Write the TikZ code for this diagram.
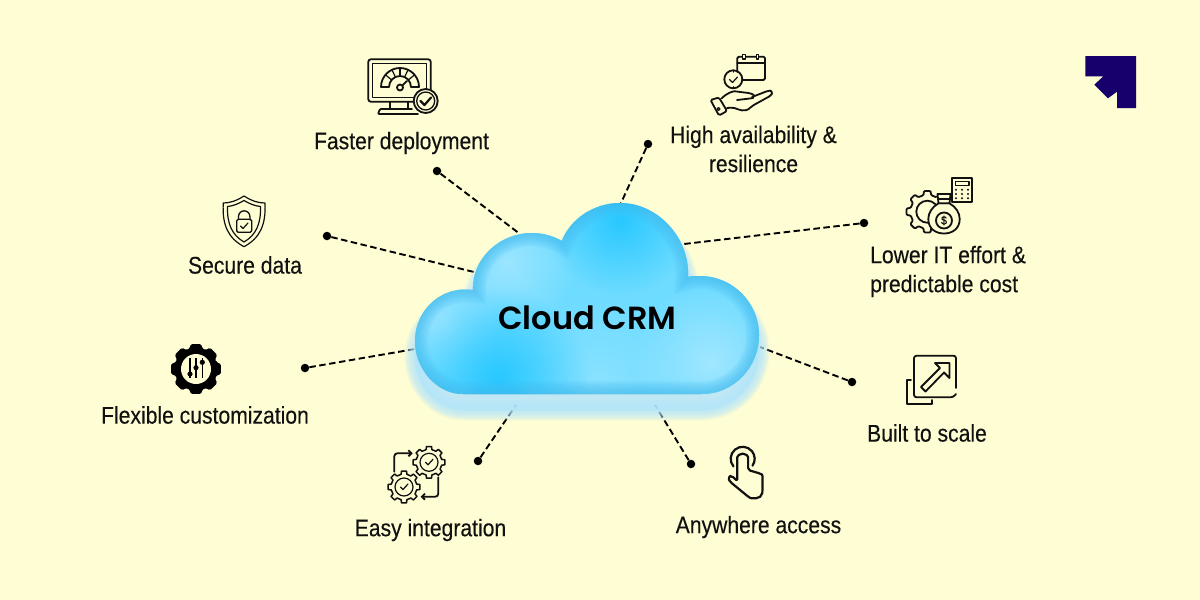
\documentclass[tikz,border=0pt]{standalone}
\usepackage{fontspec}
\usetikzlibrary{fadings,arrows.meta}
\setmainfont[FakeStretch=0.88,FakeBold=0.25]{Liberation Sans}
\newfontfamily\cloudfont{Poppins SemiBold}
\definecolor{paper}{HTML}{FFFDD3}
\definecolor{ink}{HTML}{111111}
\definecolor{logoblue}{HTML}{17006B}
\definecolor{cloudbase}{HTML}{6EDCFF}
\definecolor{cloudedge}{HTML}{45BDF0}
\definecolor{cloudspot}{HTML}{28C8FF}
\definecolor{cloudlight}{HTML}{A6E8FF}
\definecolor{glow}{HTML}{B4E6FF}
\tikzfading[name=spotfade, inner color=transparent!0, outer color=transparent!100]
\def\cloudpath{(463,394) .. controls (436,394) and (415,368) .. (415,341) .. controls (415,312) and (438,289) .. (466,289.5) -- (473,290) .. controls (472,258) and (500,233) .. (532,233) .. controls (543,233) and (553,236) .. (562,241) .. controls (570,219) and (594,203) .. (620,203) .. controls (658,203) and (690,238) .. (688,277) .. controls (690,276) and (695,276) .. (700,276) .. controls (733,276) and (759,303) .. (759,335) .. controls (759,368) and (733,394) .. (702,394) -- cycle}
\tikzset{
  lab/.style={font=\fontsize{24}{29}\selectfont, text=ink, inner sep=0pt},
  dotnode/.style={circle, fill=black, inner sep=0pt, minimum size=8.5pt},
  conn/.style={draw=black, line width=1.9pt, dash pattern=on 6.5pt off 3.5pt},
  ic/.style={draw=ink, line width=1.8pt, line join=round, line cap=round},
  icthin/.style={draw=ink, line width=1.2pt, line join=round, line cap=round},
  spot/.style={path fading=spotfade}
}
\newcommand{\smallgear}[2]{%
  \begin{scope}[shift={(#1,#2)}]
    \draw[ic,line width=1.5pt] (-13:13) \foreach \a in {0,45,...,315}{ -- (\a-13:13) -- (\a-9:16) -- (\a+9:16) -- (\a+13:13)} -- cycle;
    \draw[icthin] (0,0) circle (9);
    \draw[icthin] (-3.5,0) -- (-1,2.5) -- (4,-3);
  \end{scope}}
\begin{document}
\begin{tikzpicture}[x=1pt,y=-1pt]
\useasboundingbox (0,0) rectangle (1200,600);
\fill[paper] (0,0) rectangle (1200,600);

% end points on the cloud
\coordinate (e1) at (520,234);
\coordinate (e2) at (621,203);
\coordinate (e3) at (684,244);
\coordinate (e4) at (760,347);
\coordinate (e5) at (655,405);
\coordinate (e6) at (516,405);
\coordinate (e7) at (415,349);
\coordinate (e8) at (474,272);

\node[dotnode] (d1) at (437,171) {};
\node[dotnode] (d2) at (648,144) {};
\node[dotnode] (d3) at (864,223) {};
\node[dotnode] (d4) at (852,382) {};
\node[dotnode] (d5) at (691,464) {};
\node[dotnode] (d6) at (478,461) {};
\node[dotnode] (d7) at (305,368) {};
\node[dotnode] (d8) at (327,236) {};
\foreach \i in {1,...,8} \draw[conn] (d\i) -- (e\i);

% glow under the cloud
\begin{scope}[yshift=-16pt]
\foreach \w in {1,3,...,21}
  \path[draw=glow, fill=glow, opacity=.14, line width=\w pt, line join=round] \cloudpath;
\end{scope}

% cloud body
\begin{scope}
\clip \cloudpath;
\fill[cloudbase] (400,190) rectangle (780,410);
\fill[cloudlight, spot, opacity=.8] (507,263) circle (70);
\fill[cloudlight, spot, opacity=.8] (443,323) circle (60);
\fill[cloudlight, spot, opacity=.9] (710,362) circle (80);
\fill[cloudlight, spot, opacity=.5] (600,385) circle (90);
\fill[cloudspot, spot] (620,220) circle (75);
\fill[cloudspot, spot] (498,378) circle (90);
\foreach \w in {1,3,...,27}
  \draw[cloudedge, opacity=.07, line width=\w pt] \cloudpath;
\end{scope}
\node[inner sep=0pt, text=black, font=\cloudfont\fontsize{32}{36}\selectfont] (cloud) at (587.5,318) {Cloud CRM};

% logo
\fill[logoblue] (1085.3,56) -- (1136,56) -- (1136,108) -- (1117,108) -- (1117,91.7) -- (1108,98.3) -- (1094.3,84.7) -- (1103.3,76.3) -- (1085.3,76.3) -- cycle;

% labels
\node[lab] (t1) at (401.5,143) {Faster deployment};
\node[lab,align=center] (t2) at (753.5,149) {High availability \&\\resilience};
\node[lab,align=left,anchor=west] (t3) at (870,271.5) {Lower IT effort \&\\predictable cost};
\node[lab] (t4) at (927,433) {Built to scale};
\node[lab] (t5) at (758.5,527) {Anywhere access};
\node[lab] (t6) at (430.5,530) {Easy integration};
\node[lab] (t7) at (205,415) {Flexible customization};
\node[lab] (t8) at (245,265) {Secure data};

% monitor icon
\draw[ic,rounded corners=2.5] (420,101.7) -- (368.3,101.7) -- (368.3,59.3) -- (430.7,59.3) -- (430.7,90);
\draw[ic,line width=1.4pt] (418,97.3) -- (372.7,97.3) -- (372.7,63.3) -- (426.7,63.3) -- (426.7,90);
\draw[ic] (390,102) -- (390,109) (408,102) -- (408,109);
\draw[ic,rounded corners=1] (412,109) -- (380,109) -- (378,114) -- (418,114);
\draw[ic] (381,87) arc[start angle=-180,end angle=0,radius=19] -- (411,87) arc[start angle=0,end angle=-180,radius=11] -- cycle;
\foreach \a in {-140,-115,-90,-65,-40}
  \draw[ic,line width=1.2pt] (400,87) ++(\a:11) -- ++(\a:8);
\draw[ic] (400,87.5) circle (3);
\draw[ic] (402.3,85.5) -- (407,81);
\draw[ic,fill=paper] (425.7,101) circle (12);
\draw[ic,line width=1.3pt] (425.7,101) circle (9);
\draw[ic,line width=2.2pt] (420.5,101) -- (424.5,105) -- (431,97.5);

% calendar and hand icon
\draw[ic,rounded corners=1.5] (737.3,72) -- (737.3,56.7) -- (765,56.7) -- (765,80) -- (742,80);
\draw[ic] (737.3,62.7) -- (765,62.7);
\draw[ic,line width=1.2pt,fill=paper] (742.8,54.5) rectangle (745.2,59);
\draw[ic,line width=1.2pt,fill=paper] (756.1,54.5) rectangle (758.5,59);
\draw[ic] (733.3,79.3) circle (9);
\draw[icthin] (729.5,79.5) -- (732.5,82.5) -- (737.5,77);
\draw[ic,line width=1.2pt] (733.3,70.3) -- (733.3,72) (733.3,86.6) -- (733.3,88.3);
\draw[ic,rounded corners=1.5] (710.5,100) -- (719,97.5) -- (727,111) -- (719,115.5) -- cycle;
\draw[icthin] (718.5,109) circle (1.5);
\draw[ic,rounded corners=3] (721.7,98.3) .. controls (727,93) and (733,91) .. (738,91.7) -- (751,93.3) .. controls (754,95) and (753,98) .. (750,98.5) -- (737,100);
\draw[ic,rounded corners=2] (752,97) -- (768.3,90.7) .. controls (771,90.5) and (772.5,93) .. (771,95.5) -- (752,106) .. controls (748,110) and (745,111) .. (740,110) -- (733,107.5) -- (727,108);

% money icon
\draw[ic] (952.3,178) rectangle (972.3,202);
\draw[icthin] (955.5,181.5) rectangle (969,185.7);
\foreach \x in {956,962,968} \foreach \y in {189.7,194,198.3}
  \fill[ink] (\x,\y) circle (1.1);
\begin{scope}[shift={(927.3,211.7)}]
  \draw[ic,rounded corners=1] (-13:17) \foreach \a in {0,45,...,315}{ -- (\a-13:17) -- (\a-9:21) -- (\a+9:21) -- (\a+13:17)} -- cycle;
  \draw[ic] (0,0) circle (11);
\end{scope}
\draw[ic,fill=paper] (938.5,203.3) .. controls (932,207) and (928.3,213) .. (928.3,219) .. controls (928.3,229) and (936,233.5) .. (944,233.5) .. controls (952,233.5) and (959.7,229) .. (959.7,219) .. controls (959.7,213) and (956,207) .. (949.5,203.3) -- cycle;
\draw[ic,fill=paper] (938.5,203.3) -- (937.5,194) -- (950.5,194) -- (949.5,203.3) -- cycle;
\draw[icthin] (938,199) -- (950,199);
\draw[ic] (944,220.5) circle (8);
\node[inner sep=0pt, text=ink, font=\fontsize{12}{12}\selectfont] (dollar) at (944,220.5) {\$};

% shield icon
\draw[ic,line width=1.2pt] (244,196) .. controls (236,201) and (230,203) .. (223.3,203) .. controls (222,225) and (228,238) .. (244,246.7) .. controls (260,238) and (266,225) .. (265,203) .. controls (258,203) and (252,201) .. (244,196) -- cycle;
\draw[ic,line width=1.2pt] (244,200.5) .. controls (238,204) and (233,206) .. (227.5,206.5) .. controls (227,224) and (232,235) .. (244,242) .. controls (256,235) and (261,224) .. (260.5,206.5) .. controls (255,206) and (250,204) .. (244,200.5) -- cycle;
\draw[ic,line width=1.3pt,rounded corners=1.5] (236.7,219.3) rectangle (251.7,232.3);
\draw[ic,line width=1.3pt] (238.5,219) -- (238.5,216.5) arc[start angle=180,end angle=360,radius=5.7] -- (249.9,219);
\draw[icthin] (240.5,226) -- (243,228.5) -- (248,223);

% black gear
\begin{scope}[shift={(196,369)}]
  \fill[black,rounded corners=1.5] (-17:21.5) \foreach \a in {0,45,...,315}{ -- (\a-17:21.5) -- (\a-12:25.5) -- (\a+12:25.5) -- (\a+17:21.5)} -- cycle;
  \fill[paper] (0,0) circle (15);
  \foreach \x/\k in {-6/5,0/-1.3,6.3/-6.7}{
    \draw[black,line width=1.3pt] (\x,-11) -- (\x,9);
    \fill[black] (\x,\k) circle (2.6);
  }
\end{scope}

% integration icon
\smallgear{429}{462.3}
\smallgear{404}{487}
\draw[ic,-{Straight Barb[length=3pt,width=6pt]},rounded corners=3] (394.3,471.7) -- (394.3,453.3) -- (412.7,453.3);
\draw[ic,-{Straight Barb[length=3pt,width=6pt]},rounded corners=3] (438.3,477.3) -- (438.3,496.7) -- (420.7,496.7);

% touch icon
\draw[ic,line width=2.2pt,rounded corners=2] (737.3,481) -- (737.3,459) arc[start angle=180,end angle=360,radius=5.4] -- (748.1,470) -- (760,473.5) .. controls (762,474.5) and (762.5,476) .. (762.5,478) -- (762.5,491) .. controls (762,496) and (759,498.3) .. (754,498.3) .. controls (751,498.3) and (749.5,497.5) .. (748,496.5) -- (730,481.7) .. controls (728.5,479) and (729.5,476) .. (732,476) -- cycle;
\draw[ic,line width=2.2pt] (733.5,466.5) arc[start angle=140,end angle=395,radius=12];

% scale icon
\draw[ic,rounded corners=2.5] (956,388) -- (956,355.7) -- (914,355.7) -- (914,397.3) -- (953,397.3) -- (956,394);
\draw[ic] (911,380) -- (906.7,380) -- (906.7,404.3) -- (931.7,404.3) -- (931.7,400);
\draw[ic] (935,363) -- (949.5,363) -- (949.5,378) -- (944,372.5) -- (925.5,391.5) -- (921,387) -- (940,368) -- cycle;
\end{tikzpicture}
\end{document}
